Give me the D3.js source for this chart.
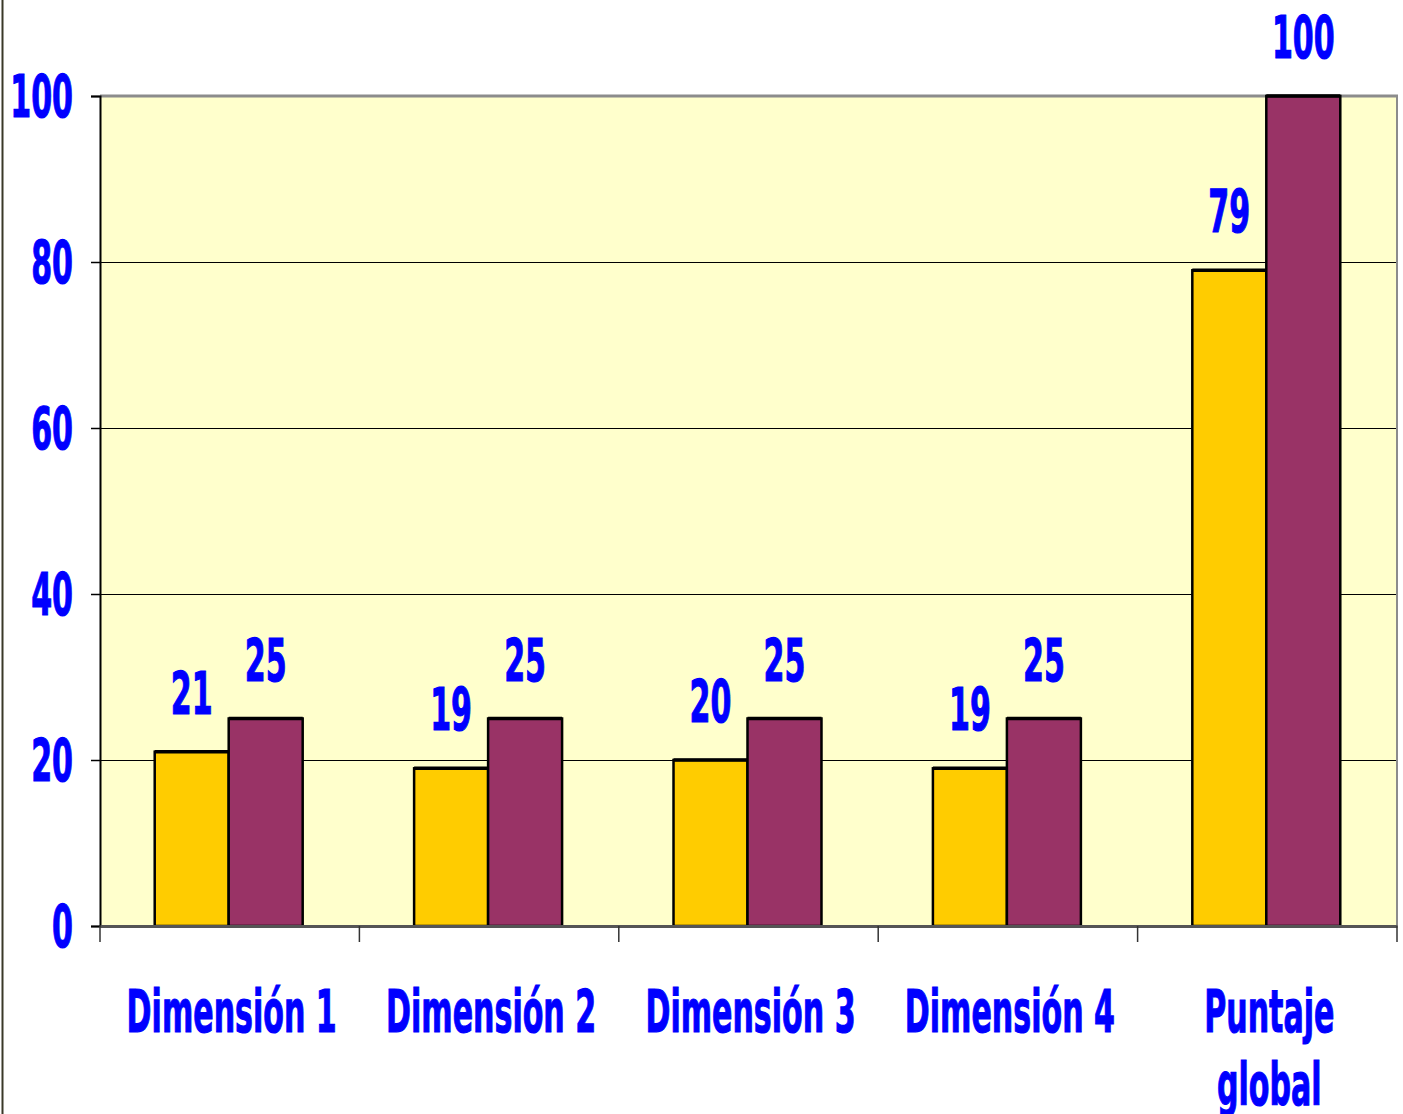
<!DOCTYPE html>
<html lang="es">
<head>
<meta charset="utf-8">
<title>Dimensiones</title>
<script src="https://cdn.jsdelivr.net/npm/d3@7"></script>
<style>
  body { margin: 0; background: #fff; }
  .lbl { font-family: "DejaVu Sans", sans-serif; font-weight: bold; fill: #0000ff; stroke: #0000ff; stroke-width: 1.2px; }
</style>
</head>
<body>
<div id="chart"></div>
<script>
// data
const categories = ["Dimensión 1", "Dimensión 2", "Dimensión 3", "Dimensión 4", "Puntaje global"];
const serieA = [21, 19, 20, 19, 79];
const serieB = [25, 25, 25, 25, 100];
const yTicks = [0, 20, 40, 60, 80, 100];

const W = 1403, H = 1114;
const plot = { x0: 100, x1: 1397, y0: 96, y1: 926 };
const fontSize = 59, squeeze = 0.51;

const svg = d3.select("#chart").append("svg")
    .attr("width", W).attr("height", H);

const x = d3.scaleBand().domain(categories).range([plot.x0, plot.x1]).padding(0);
const xs = d3.scaleBand().domain([0, 1]).range([0, x.bandwidth()]).paddingInner(0).paddingOuter(0.753);
const y = d3.scaleLinear().domain([0, 100]).range([plot.y1, plot.y0]);

// frame line on the far left
svg.append("line").attr("x1", 2.5).attr("x2", 2.5).attr("y1", 0).attr("y2", H)
    .attr("stroke", "#3a3828").attr("stroke-width", 2);

// plot background
svg.append("rect").attr("x", plot.x0).attr("y", plot.y0)
    .attr("width", plot.x1 - plot.x0).attr("height", plot.y1 - plot.y0)
    .attr("fill", "#ffffcc");

// grid lines
svg.selectAll(".grid").data(yTicks.filter(d => d > 0 && d < 100)).enter()
    .append("line")
    .attr("x1", plot.x0).attr("x2", plot.x1)
    .attr("y1", d => y(d) + 0.5).attr("y2", d => y(d) + 0.5)
    .attr("stroke", "#000").attr("stroke-width", 1);

// top and right border
svg.append("line").attr("x1", plot.x0).attr("x2", plot.x1 + 1)
    .attr("y1", y(100)).attr("y2", y(100))
    .attr("stroke", "#8c8c8c").attr("stroke-width", 3);
svg.append("line").attr("x1", plot.x1).attr("x2", plot.x1)
    .attr("y1", y(100)).attr("y2", plot.y1)
    .attr("stroke", "#8c8c8c").attr("stroke-width", 2);

// bars
const rows = categories.map((c, i) => ({ cat: c, vals: [serieA[i], serieB[i]] }));
const colors = ["#ffcc00", "#993366"];

const g = svg.selectAll(".grp").data(rows).enter().append("g")
    .attr("transform", d => `translate(${x(d.cat) - 1},0)`);

g.selectAll("rect").data(d => d.vals).enter().append("rect")
    .attr("x", (d, i) => xs(i))
    .attr("y", d => y(d))
    .attr("width", xs.bandwidth())
    .attr("height", d => y(0) - y(d))
    .attr("fill", (d, i) => colors[i])
    .attr("stroke", "#000").attr("stroke-width", 2.5);

// thicker top edge like the original
g.selectAll("line.topedge").data(d => d.vals).enter().append("line")
    .attr("x1", (d, i) => xs(i)).attr("x2", (d, i) => xs(i) + xs.bandwidth())
    .attr("y1", d => y(d)).attr("y2", d => y(d))
    .attr("stroke", "#000").attr("stroke-width", 3.5);

// value labels
g.selectAll("text").data(d => d.vals).enter().append("text")
    .attr("class", "lbl")
    .attr("font-size", fontSize)
    .attr("text-anchor", "middle")
    .attr("transform", (d, i) => `translate(${xs(i) + xs.bandwidth() / 2},${y(d) - 38}) scale(${squeeze},1)`)
    .text(d => d);

// y axis
const yAxis = d3.axisLeft(y).tickValues(yTicks).tickSize(9).tickFormat("");
const ya = svg.append("g").attr("transform", `translate(${plot.x0},0)`).call(yAxis);
ya.select(".domain").attr("stroke", "#000").attr("stroke-width", 2);
ya.selectAll(".tick line").attr("stroke", "#000").attr("stroke-width", 1.5);

svg.selectAll(".ylbl").data(yTicks).enter().append("text")
    .attr("class", "lbl")
    .attr("font-size", fontSize)
    .attr("text-anchor", "end")
    .attr("transform", d => `translate(73,${y(d) + 21}) scale(${squeeze},1)`)
    .text(d => d);

// x axis
const xAxis = d3.axisBottom(x).tickSize(0).tickFormat("");
const xa = svg.append("g").attr("transform", `translate(0,${plot.y1})`).call(xAxis);
xa.select(".domain").attr("stroke", "#555").attr("stroke-width", 3);
svg.selectAll(".xtick").data(categories.concat([null])).enter().append("line")
    .attr("x1", (d, i) => i < categories.length ? x(d) : plot.x1)
    .attr("x2", (d, i) => i < categories.length ? x(d) : plot.x1)
    .attr("y1", plot.y1).attr("y2", plot.y1 + 16)
    .attr("stroke", "#333").attr("stroke-width", 1.5);

// category labels
categories.forEach(c => {
  const lines = c === "Puntaje global" ? ["Puntaje", "global"] : [c];
  lines.forEach((t, k) => {
    svg.append("text").attr("class", "lbl")
      .attr("font-size", fontSize)
      .attr("text-anchor", "middle")
      .attr("transform", `translate(${x(c) + x.bandwidth() / 2 + 2},${1032 + k * 73}) scale(${squeeze},1)`)
      .text(t);
  });
});
</script>
</body>
</html>
